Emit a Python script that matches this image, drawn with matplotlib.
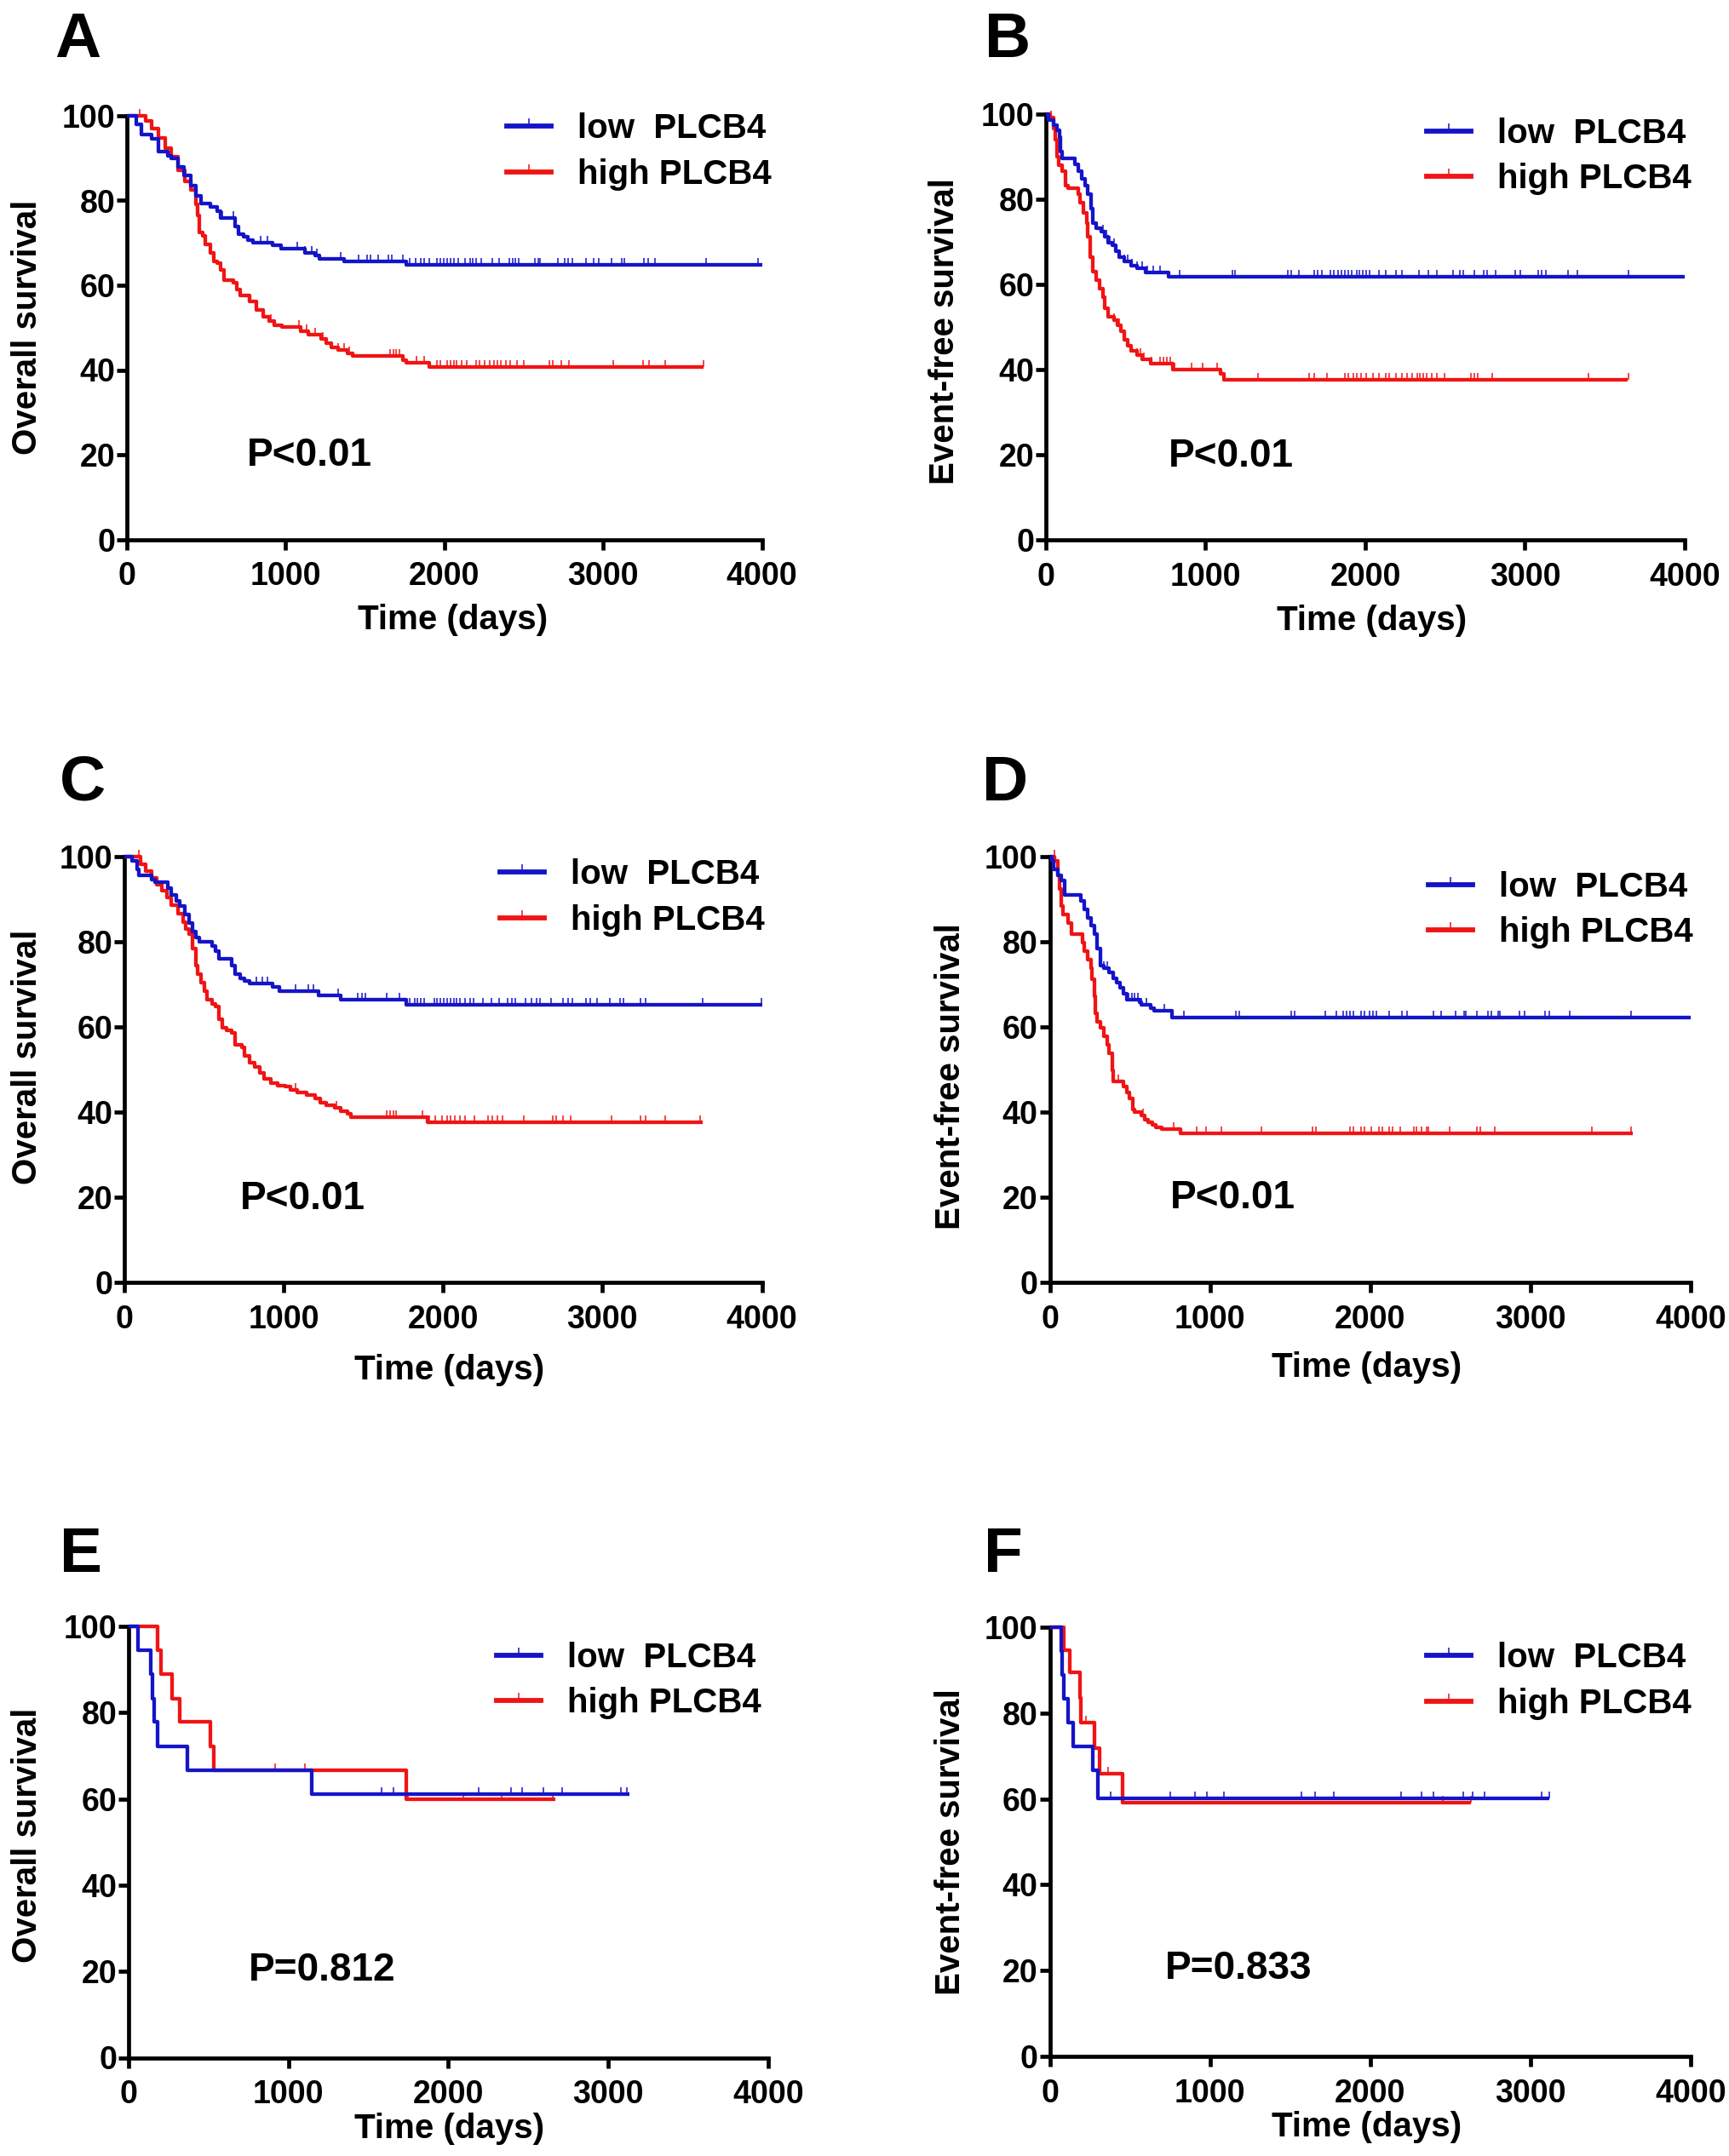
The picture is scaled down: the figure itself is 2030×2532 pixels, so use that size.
import numpy as np
import matplotlib
matplotlib.use("Agg")
import matplotlib.pyplot as plt
from matplotlib.path import Path
from matplotlib.lines import Line2D

# ---------------- data ----------------
# Panel A : overall survival
A_low_t = [0, 60, 90, 157, 200, 260, 280, 320, 360, 400, 435, 465, 527, 568, 589, 681, 702, 733, 763, 794, 917, 969, 1123, 1185, 1215, 1370, 1760]
A_low_s = [100, 98, 95.5, 94.6, 91.5, 90.5, 90, 88, 86, 83.5, 81.2, 79.2, 78.5, 77.5, 75.8, 73.8, 72, 71.4, 70.7, 70, 69.4, 68.7, 67.7, 67, 66.3, 65.7, 64.9]
A_low_end = 4000
A_low_cens = [599, 671, 845, 887, 1072, 1123, 1164, 1195, 1349, 1462, 1513, 1534, 1585, 1647, 1667, 1739, 1780, 1821, 1852, 1873, 1904, 1955, 1976, 1996, 2017, 2037, 2058, 2089, 2130, 2161, 2181, 2201, 2232, 2304, 2345, 2407, 2428, 2448, 2469, 2571, 2592, 2602, 2715, 2756, 2777, 2808, 2890, 2941, 2972, 3054, 3116, 3136, 3255, 3285, 3325, 3650, 3975]
A_high_t = [0, 116, 157, 198, 239, 280, 322, 363, 404, 435, 445, 455, 476, 496, 527, 547, 568, 589, 609, 671, 691, 712, 774, 815, 856, 897, 928, 979, 1092, 1143, 1226, 1257, 1287, 1328, 1390, 1421, 1739, 1760, 1903]
A_high_s = [100, 98.7, 97, 94.7, 92.3, 90.3, 87.2, 84.5, 82.5, 79.1, 76.5, 72.4, 71.7, 69.7, 67.7, 65.7, 65.3, 63.6, 61.3, 60.6, 59, 57.6, 56.2, 54.2, 52.5, 51.5, 50.5, 50.1, 49.1, 48.4, 47.4, 46.4, 45.4, 44.7, 44, 43.4, 42.4, 41.7, 40.7]
A_high_end = 3630
A_high_cens = [80, 907, 1082, 1133, 1185, 1236, 1329, 1369, 1400, 1657, 1678, 1698, 1719, 1822, 1873, 1955, 1976, 2017, 2037, 2058, 2078, 2109, 2140, 2201, 2222, 2253, 2284, 2314, 2335, 2355, 2386, 2417, 2458, 2499, 2663, 2684, 2736, 2787, 3064, 3254, 3287, 3390, 3630]

# Panel B : event-free survival
B_low_t = [0, 18, 49, 70, 84, 90, 100, 182, 203, 223, 244, 264, 285, 295, 316, 346, 367, 387, 418, 439, 459, 490, 531, 572, 623, 766]
B_low_s = [100, 98.7, 97.5, 96.3, 94.6, 91.3, 89.6, 88.3, 86.6, 84.9, 83.2, 81.2, 77.9, 74.5, 73.2, 72.5, 71.2, 69.8, 69.2, 67.8, 66.5, 65.5, 64.5, 63.8, 62.8, 61.8]
B_low_end = 4000
B_low_cens = [357, 377, 398, 428, 459, 490, 510, 541, 572, 602, 633, 674, 715, 838, 1166, 1186, 1514, 1535, 1586, 1678, 1699, 1730, 1781, 1801, 1832, 1852, 1873, 1893, 1914, 1945, 1965, 1986, 2006, 2027, 2088, 2129, 2191, 2232, 2334, 2395, 2447, 2549, 2590, 2611, 2682, 2744, 2764, 2816, 2939, 2970, 3082, 3102, 3133, 3272, 3326, 3646]
B_high_t = [0, 29, 49, 59, 70, 80, 100, 121, 141, 203, 213, 234, 254, 264, 275, 295, 316, 336, 357, 367, 387, 428, 449, 469, 490, 510, 531, 572, 602, 654, 797, 1094, 1115]
B_high_s = [100, 99.3, 96.6, 94, 90, 88, 86.6, 83.2, 82.6, 81.2, 79.2, 76.9, 74.5, 71.2, 66.5, 63.1, 61.1, 59.1, 57.1, 54.4, 52.4, 51.7, 50.4, 49.1, 47.1, 45.7, 44.4, 43.4, 42.4, 41.4, 40.0, 39.0, 37.7]
B_high_end = 3645
B_high_cens = [30, 428, 459, 490, 531, 572, 592, 613, 664, 715, 736, 756, 777, 807, 910, 982, 1074, 1330, 1648, 1678, 1760, 1873, 1893, 1924, 1945, 1975, 2006, 2047, 2088, 2129, 2150, 2191, 2232, 2262, 2293, 2324, 2344, 2365, 2385, 2416, 2447, 2498, 2662, 2682, 2703, 2795, 3395, 3646]

# Panel C : overall survival
C_low_t = [0, 50, 80, 91, 172, 193, 275, 295, 326, 347, 377, 408, 428, 449, 469, 551, 572, 592, 674, 695, 725, 756, 787, 930, 971, 1216, 1360, 1769]
C_low_s = [100, 99, 97, 95.7, 94.7, 94, 92.7, 91, 89.7, 88.4, 86.4, 84.4, 82.4, 81.1, 80.1, 79.1, 77.8, 76.1, 74.5, 72.5, 71.5, 70.8, 70.2, 69.5, 68.5, 67.5, 66.5, 65.3]
C_low_end = 4000
C_low_cens = [827, 868, 899, 1073, 1155, 1186, 1339, 1462, 1493, 1513, 1646, 1728, 1790, 1820, 1841, 1861, 1882, 1943, 1963, 1984, 2004, 2025, 2045, 2066, 2086, 2107, 2137, 2168, 2189, 2250, 2301, 2352, 2403, 2434, 2455, 2516, 2557, 2588, 2608, 2680, 2751, 2782, 2813, 2895, 2925, 2966, 3048, 3109, 3130, 3240, 3273, 3631, 3995]
C_high_t = [0, 101, 132, 172, 203, 234, 265, 295, 336, 367, 387, 408, 428, 449, 459, 480, 500, 521, 551, 572, 592, 613, 643, 674, 694, 735, 756, 787, 817, 848, 879, 920, 961, 1012, 1042, 1083, 1145, 1196, 1227, 1268, 1319, 1360, 1400, 1421, 1902]
C_high_s = [100, 98.3, 96.7, 95, 93.4, 92, 90.4, 88.7, 86.7, 84.7, 83.1, 81.8, 78.4, 74.5, 72.5, 70.5, 68.5, 66.5, 65.5, 64.9, 61.9, 59.9, 59.2, 58.6, 55.9, 55.2, 53.2, 51.6, 50.6, 49.3, 47.9, 46.9, 46.3, 46, 45.3, 44.6, 44, 43.3, 42.3, 41.6, 41, 40.3, 39.7, 38.9, 37.7]
C_high_end = 3630
C_high_cens = [90, 1073, 1329, 1646, 1667, 1687, 1707, 1871, 1912, 1953, 1994, 2025, 2045, 2076, 2107, 2137, 2199, 2281, 2311, 2342, 2373, 2506, 2690, 2710, 2751, 2802, 3058, 3240, 3273, 3395, 3615]

# Panel D : event-free survival
D_low_t = [0, 11, 21, 52, 72, 92, 194, 214, 235, 255, 276, 296, 316, 337, 367, 398, 418, 438, 459, 479, 560, 571, 632, 652, 764]
D_low_s = [100, 99, 97, 95.7, 94.4, 91, 89.7, 87.7, 85.7, 83.8, 81.8, 78.4, 74.5, 73.8, 72.8, 71.5, 70.5, 69.2, 67.8, 66.5, 65.8, 65.2, 64.5, 63.9, 62.2]
D_low_end = 4000
D_low_cens = [337, 357, 489, 510, 530, 550, 571, 601, 713, 835, 1161, 1181, 1506, 1527, 1720, 1791, 1832, 1852, 1873, 1893, 1944, 1964, 1995, 2015, 2036, 2117, 2198, 2229, 2392, 2442, 2534, 2585, 2595, 2666, 2737, 2758, 2798, 2808, 2930, 2961, 3093, 3117, 3245, 3628]
D_high_t = [0, 31, 52, 62, 72, 82, 113, 133, 204, 214, 235, 255, 265, 276, 286, 296, 316, 337, 357, 367, 388, 398, 458, 479, 499, 520, 530, 571, 591, 611, 642, 662, 700, 815]
D_high_s = [100, 99, 95.7, 92.4, 88.4, 86.4, 84.4, 81.8, 79.8, 77.8, 75.8, 73.8, 71.2, 67.2, 63.2, 61.2, 59.9, 57.9, 55.9, 53.9, 49.9, 47.3, 46, 44.6, 43.3, 40.6, 40, 39.3, 38.3, 37.7, 37, 36.5, 36, 35]
D_high_end = 3640
D_high_cens = [30, 428, 581, 774, 917, 977, 1069, 1323, 1639, 1659, 1873, 1893, 1944, 1964, 2005, 2056, 2076, 2117, 2137, 2188, 2270, 2290, 2320, 2351, 2361, 2493, 2666, 2686, 2778, 3383, 3628]

# Panel E : overall survival (small cohort)
E_low_t = [0, 56, 137, 151, 161, 179, 365, 1145]
E_low_s = [100, 94.4, 88.9, 83.3, 77.8, 72.2, 66.7, 61.1]
E_low_end = 3130
E_low_cens = [1582, 1658, 2188, 2390, 2462, 2592, 2711, 3080, 3116]
E_high_t = [0, 180, 203, 274, 322, 512, 531, 1736]
E_high_s = [100, 94.4, 88.9, 83.3, 77.8, 72.2, 66.7, 60.0]
E_high_end = 2670
E_high_cens = [916, 1103, 1748, 2093, 2331, 2652]

# Panel F : event-free survival (small cohort)
F_low_t = [0, 71, 78, 88, 112, 147, 266, 302]
F_low_s = [100, 94.4, 88.9, 83.3, 77.8, 72.2, 66.7, 60.2]
F_low_end = 3116
F_low_cens = [381, 753, 907, 979, 1086, 1572, 1655, 1774, 2190, 2320, 2392, 2582, 2641, 2712, 3068, 3116]
F_high_t = [0, 88, 124, 188, 195, 278, 309, 456]
F_high_s = [100, 94.7, 89.5, 83.5, 77.8, 71.8, 65.8, 59.2]
F_high_end = 2629
F_high_cens = [223, 366, 2451, 2629]

series_labels = ["low  PLCB4", "high PLCB4"]
x_ticks = [0, 1000, 2000, 3000, 4000]
y_ticks = [0, 20, 40, 60, 80, 100]
p_texts = {"A": "P<0.01", "B": "P<0.01", "C": "P<0.01", "D": "P<0.01", "E": "P=0.812", "F": "P=0.833"}
y_titles = {"A": "Overall survival", "B": "Event-free survival", "C": "Overall survival",
            "D": "Event-free survival", "E": "Overall survival", "F": "Event-free survival"}
x_title = "Time (days)"

# ---------------- style / layout ----------------
plt.rcParams["font.family"] = ["Liberation Sans", "DejaVu Sans"]
plt.rcParams["font.weight"] = "bold"
plt.rcParams["axes.labelweight"] = "bold"

BLUE = "#1414c8"
RED = "#f01414"
W, H = 2031, 2532
fig = plt.figure(figsize=(W / 100, H / 100), dpi=100)

TICK = Path([(0, 0), (0, 1)], [Path.MOVETO, Path.LINETO])

# pixel boxes: left, right, top(y=100), bottom(y=0)
layout = {
    "A": dict(box=(149, 894.5, 136, 633.5), letter=(64, 67), leg=(595, 178), p=(755, 19.8), ylab=(-0.157, 0.5), xlab=(0.513, -0.19)),
    "B": dict(box=(1228, 1978, 134, 634), letter=(1156, 67), leg=(1675, 183.5), p=(768, 19.6), ylab=(-0.159, 0.49), xlab=(0.51, -0.19)),
    "C": dict(box=(146, 894.5, 1006, 1506), letter=(70, 940), leg=(587, 1054), p=(725, 19.6), ylab=(-0.152, 0.53), xlab=(0.51, -0.205)),
    "D": dict(box=(1232.6, 1985, 1006, 1506), letter=(1153, 940), leg=(1677, 1068.5), p=(750, 19.8), ylab=(-0.155, 0.483), xlab=(0.495, -0.2)),
    "E": dict(box=(151, 902, 1910, 2416.5), letter=(70, 1846), leg=(583, 1973.5), p=(750, 20.2), ylab=(-0.158, 0.515), xlab=(0.502, -0.165)),
    "F": dict(box=(1232.6, 1985, 1911, 2415), letter=(1155, 1846), leg=(1675, 1974), p=(718, 20.4), ylab=(-0.155, 0.5), xlab=(0.495, -0.165)),
}

data = {
    "A": ((A_low_t, A_low_s, A_low_end, A_low_cens), (A_high_t, A_high_s, A_high_end, A_high_cens)),
    "B": ((B_low_t, B_low_s, B_low_end, B_low_cens), (B_high_t, B_high_s, B_high_end, B_high_cens)),
    "C": ((C_low_t, C_low_s, C_low_end, C_low_cens), (C_high_t, C_high_s, C_high_end, C_high_cens)),
    "D": ((D_low_t, D_low_s, D_low_end, D_low_cens), (D_high_t, D_high_s, D_high_end, D_high_cens)),
    "E": ((E_low_t, E_low_s, E_low_end, E_low_cens), (E_high_t, E_high_s, E_high_end, E_high_cens)),
    "F": ((F_low_t, F_low_s, F_low_end, F_low_cens), (F_high_t, F_high_s, F_high_end, F_high_cens)),
}

LW = 3.1
SPINE = 3.4

for key in ["A", "B", "C", "D", "E", "F"]:
    lay = layout[key]
    l, r, t, b = lay["box"]
    ax = fig.add_axes([l / W, 1 - b / H, (r - l) / W, (b - t) / H])
    low, high = data[key]
    for (tt, ss, end, cens), color in ((high, RED), (low, BLUE)):
        tt = np.asarray(tt, float)
        ss = np.asarray(ss, float)
        ax.step(np.append(tt, end), np.append(ss, ss[-1]), where="post", color=color,
                lw=LW, clip_on=False, solid_capstyle="butt", zorder=3)
        idx = np.searchsorted(tt, np.asarray(cens, float), side="right") - 1
        ax.plot(cens, ss[idx], ls="none", marker=TICK, ms=12, mew=1.1, color=color,
                clip_on=False, zorder=3)
    ax.set_xlim(0, 4000)
    ax.set_ylim(0, 100)
    ax.set_xticks(x_ticks)
    ax.set_yticks(y_ticks)
    for s in ("top", "right"):
        ax.spines[s].set_visible(False)
    for s in ("left", "bottom"):
        ax.spines[s].set_linewidth(SPINE)
    ax.tick_params(direction="out", length=8.5, width=SPINE, labelsize=27)
    ax.tick_params(axis="x", pad=10)
    ax.tick_params(axis="y", pad=1.5)
    for lab in ax.get_xticklabels() + ax.get_yticklabels():
        lab.set_fontweight("bold")

    ax.set_xlabel(x_title, fontsize=29, fontweight="bold", va="center")
    ax.xaxis.set_label_coords(*lay["xlab"])
    ax.set_ylabel(y_titles[key], fontsize=29, fontweight="bold", va="center")
    ax.yaxis.set_label_coords(*lay["ylab"])

    ax.text(lay["p"][0], lay["p"][1], p_texts[key], fontsize=33, fontweight="bold",
            ha="left", va="center")

    handles = [Line2D([0], [0], color=BLUE, lw=4.2, marker=TICK, ms=13, mew=1.1),
               Line2D([0], [0], color=RED, lw=4.2, marker=TICK, ms=13, mew=1.1)]
    lx, ly = lay["leg"]
    ax.legend(handles, series_labels, loc="center left",
              bbox_to_anchor=(lx / W, 1 - ly / H), bbox_transform=fig.transFigure,
              frameon=False, prop=dict(size=29, weight="bold"), numpoints=1,
              handlelength=1.3, handletextpad=0.75, labelspacing=0.38,
              borderpad=0, borderaxespad=0)

    lxp, lyp = lay["letter"]
    fig.text(lxp / W, 1 - lyp / H, key, fontsize=54, fontweight="bold",
             ha="left", va="baseline")

fig.savefig("out.png", dpi=100, facecolor="white")
